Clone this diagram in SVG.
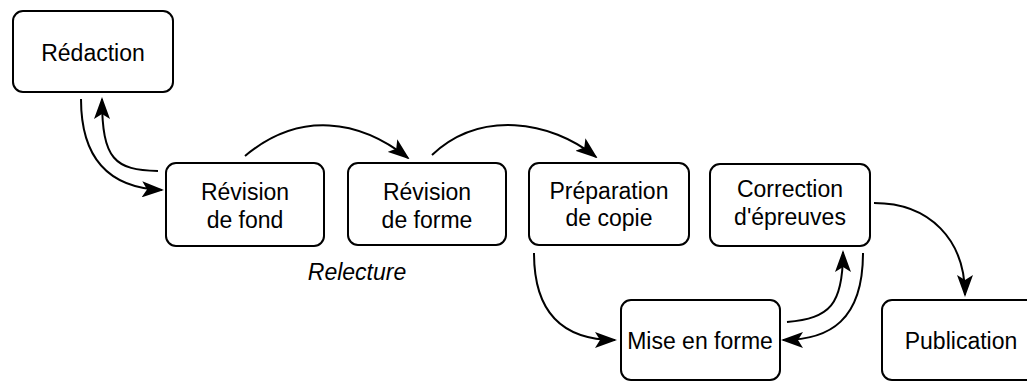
<svg xmlns="http://www.w3.org/2000/svg" width="1027" height="381" viewBox="0 0 1027 381">
<style>
.box{fill:#fff;stroke:#000;stroke-width:2}
.t{font-family:"Liberation Sans",Arial,sans-serif;font-size:23px;fill:#000;text-anchor:middle}
.c{fill:none;stroke:#000;stroke-width:2;marker-end:url(#ah)}
</style>
<defs>
<marker id="ah" viewBox="0 0 22 16" refX="20" refY="8" markerWidth="22" markerHeight="16" markerUnits="userSpaceOnUse" orient="auto">
<path d="M0,0 L22,8 L0,16 L5,8 z" fill="#000"/>
</marker>
</defs>
<rect width="1027" height="381" fill="#fff"/>
<g id="connectors">
<path class="c" d="M81,99 C81,160 110,188 162,190"/>
<path class="c" d="M158,171 C115,170 102,160 102,99"/>
<path class="c" d="M245,156 C300,110 360,120 408,158"/>
<path class="c" d="M432,155 C480,110 550,120 596,157"/>
<path class="c" d="M534,253 C534,310 560,340 615,340"/>
<path class="c" d="M787,322 C830,318 843,305 843,252"/>
<path class="c" d="M863,253 C863,320 830,340 783,340"/>
<path class="c" d="M874,203 C930,203 965,240 965,295"/>
</g>
<g id="redaction">
<rect class="box" x="13" y="11" width="160" height="81" rx="10"/>
<text class="t" x="93" y="61">Rédaction</text>
</g>
<g id="revision-fond">
<rect class="box" x="166" y="163" width="158" height="83" rx="10"/>
<text class="t" x="245" y="200">Révision</text>
<text class="t" x="245" y="228">de fond</text>
</g>
<g id="revision-forme">
<rect class="box" x="348" y="163" width="158" height="82" rx="10"/>
<text class="t" x="427" y="200">Révision</text>
<text class="t" x="427" y="228">de forme</text>
</g>
<g id="preparation">
<rect class="box" x="529" y="163" width="160" height="82" rx="10"/>
<text class="t" x="609" y="199">Préparation</text>
<text class="t" x="609" y="226">de copie</text>
</g>
<g id="correction">
<rect class="box" x="710" y="164" width="160" height="82" rx="10"/>
<text class="t" x="790" y="197">Correction</text>
<text class="t" x="790" y="225">d'épreuves</text>
</g>
<g id="mise-en-forme">
<rect class="box" x="621" y="300" width="159" height="80" rx="10"/>
<text class="t" x="700" y="349">Mise en forme</text>
</g>
<g id="publication">
<rect class="box" x="882" y="300" width="160" height="80" rx="10"/>
<text class="t" x="961" y="349">Publication</text>
</g>
<g id="relecture">
<text class="t" x="357" y="280" font-style="italic">Relecture</text>
</g>
</svg>
